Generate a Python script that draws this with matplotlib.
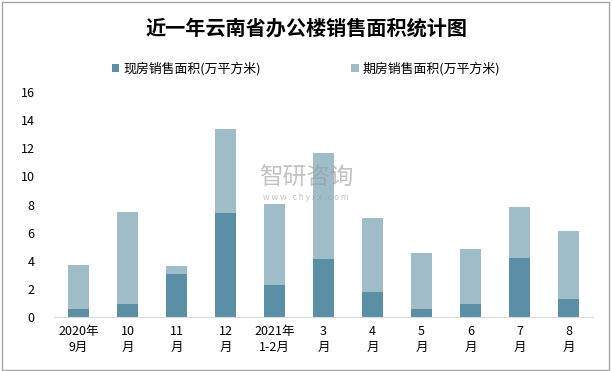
import matplotlib
matplotlib.use("Agg")
import matplotlib.pyplot as plt
import numpy as np

plt.rcParams['font.family'] = ['Noto Sans CJK SC', 'DejaVu Sans']

categories = ["2020年\n9月", "10\n月", "11\n月", "12\n月", "2021年\n1-2月", "3\n月", "4\n月", "5\n月", "6\n月", "7\n月", "8\n月"]
existing = [0.57, 0.93, 3.06, 7.40, 2.28, 4.13, 1.78, 0.57, 0.93, 4.20, 1.28]
totals = [3.70, 7.48, 3.63, 13.39, 8.05, 11.68, 7.05, 4.56, 4.84, 7.83, 6.12]
presale = [t - e for t, e in zip(totals, existing)]
yticks = [0, 2, 4, 6, 8, 10, 12, 14, 16]

c_dark = "#5B8FA6"
c_light = "#9FBCC9"

fig = plt.figure(figsize=(6.12, 3.71), dpi=100)
ax = fig.add_axes([54/612, 1-317/371, 539/612, (317-92)/371])

x = np.arange(len(categories))
ax.bar(x, existing, width=0.41, color=c_dark, label="现房销售面积(万平方米)")
ax.bar(x, presale, width=0.41, bottom=existing, color=c_light, label="期房销售面积(万平方米)")

ax.set_xlim(-0.5, len(categories) - 0.5)
ax.set_ylim(0, 16)
ax.set_yticks(yticks)
ax.set_yticklabels([str(v) for v in yticks], fontsize=9)
ax.set_xticks(x)
ax.set_xticklabels(categories, fontsize=9, linespacing=1.25)
ax.tick_params(axis='both', length=0, pad=6)
ax.tick_params(axis='y', pad=14)
for s in ["top", "right", "left"]:
    ax.spines[s].set_visible(False)
ax.spines["bottom"].set_color("#D9D9D9")

fig.text(0.5, 1-28/371, "近一年云南省办公楼销售面积统计图", ha="center", va="center",
         fontsize=14.5, fontweight="bold")

leg = fig.legend(loc="center", bbox_to_anchor=(0.5, 1-69/371), ncol=2, frameon=False,
                 fontsize=9.3, handlelength=0.6, handleheight=0.6, columnspacing=7.0,
                 handletextpad=0.3)

fig.text(0.5, 1-178/371, "智研咨询", ha="center", va="center", fontsize=17,
         color="#9a9a9a", alpha=0.6)
fig.text(0.5, 1-198/371, "w w w . c h y x x . c o m", ha="center", va="center", fontsize=6,
         color="#9a9a9a", alpha=0.6)

border = plt.Rectangle((0.003, 0.004), 0.992, 0.99, transform=fig.transFigure,
                       fill=False, edgecolor="#A6A6A6", linewidth=1)
fig.add_artist(border)

fig.savefig("out.png", dpi=100)
